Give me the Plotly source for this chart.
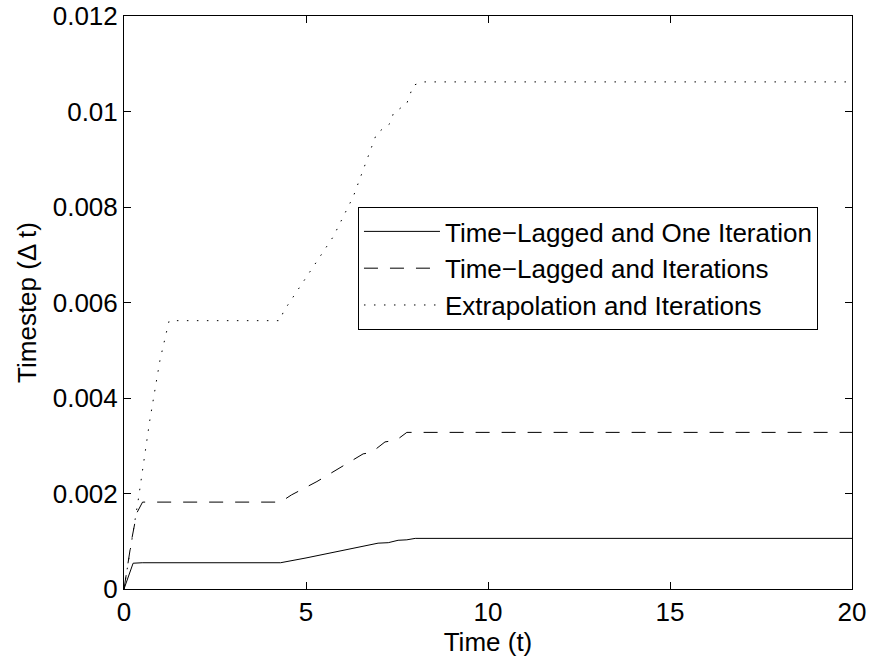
import plotly.graph_objects as go

# Time-Lagged and One Iteration
t_one = [0, 0.25, 0.5, 4.3, 5.0, 6.0, 6.98, 7.26, 7.53, 7.77, 8.0, 20]
dt_one = [0, 0.00054, 0.00055, 0.00055, 0.00065, 0.00080, 0.00096, 0.00097, 0.00102, 0.00103, 0.00106, 0.00106]

# Time-Lagged and Iterations
t_iter = [0, 0.07, 0.21, 0.35, 0.51, 4.3, 4.6, 5.3, 6.2, 6.57, 6.8, 7.17, 7.49, 7.77, 20]
dt_iter = [0, 0.00033, 0.00103, 0.00159, 0.00182, 0.00182, 0.00197, 0.00225, 0.00267, 0.00283, 0.00286,
           0.00308, 0.00312, 0.00328, 0.00328]

# Extrapolation and Iterations
t_ext = [0, 0.21, 0.39, 0.71, 0.99, 1.24, 4.29, 4.38, 5.02, 5.75, 6.3, 6.85, 6.94, 7.31, 7.4, 7.77, 7.95, 8.22, 20]
dt_ext = [0, 0.00103, 0.00186, 0.00354, 0.0048, 0.00562, 0.00562, 0.00581, 0.00654, 0.00738, 0.00822,
          0.00937, 0.00954, 0.00975, 0.00996, 0.01017, 0.01055, 0.01062, 0.01062]

x_ticks = [0, 5, 10, 15, 20]
y_ticks = [0, 0.002, 0.004, 0.006, 0.008, 0.01, 0.012]
y_ticktext = ["0", "0.002", "0.004", "0.006", "0.008", "0.01", "0.012"]

FONT = "Liberation Sans, Arial, Helvetica, sans-serif"
FS = 26

fig = go.Figure()
fig.add_trace(go.Scatter(x=t_one, y=dt_one, mode="lines", name="Time\u2212Lagged and One Iteration",
                         line=dict(color="black", width=1)))
fig.add_trace(go.Scatter(x=t_iter, y=dt_iter, mode="lines", name="Time\u2212Lagged and Iterations",
                         line=dict(color="black", width=1, dash="14px,12px")))
fig.add_trace(go.Scatter(x=t_ext, y=dt_ext, mode="lines", name="Extrapolation and Iterations",
                         line=dict(color="black", width=1, dash="1.5px,8.5px")))

axis_common = dict(showgrid=False, zeroline=False, showline=True, linecolor="black", linewidth=1,
                   mirror="ticks", ticks="inside", ticklen=7, tickcolor="black", tickwidth=1,
                   automargin=False,
                   tickfont=dict(family=FONT, size=FS, color="black"))

fig.update_layout(
    width=869, height=660,
    margin=dict(l=124, r=17, t=16, b=71),
    paper_bgcolor="white", plot_bgcolor="white",
    font=dict(family=FONT, size=FS, color="black"),
    showlegend=True,
    legend=dict(x=0.3214, y=0.6667, xanchor="left", yanchor="top",
                bordercolor="black", borderwidth=1, bgcolor="white",
                font=dict(family=FONT, size=FS, color="black"),
                itemwidth=76, tracegroupgap=0),
    xaxis=dict(range=[0, 20], tickvals=x_ticks, ticktext=[str(v) for v in x_ticks],
               title=dict(text="Time (t)", font=dict(family=FONT, size=FS), standoff=2), **axis_common),
    yaxis=dict(range=[0, 0.012], tickvals=y_ticks, ticktext=y_ticktext,
               title=dict(text="Timestep (\u0394 t)", font=dict(family=FONT, size=FS), standoff=8), **axis_common),
)

fig.write_html("out.html")
